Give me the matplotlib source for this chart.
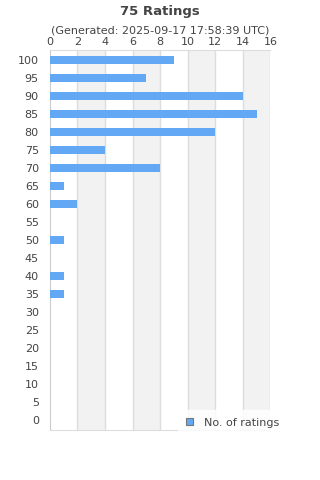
import numpy as np
import matplotlib.pyplot as plt
from matplotlib.patches import Patch

# ratings buckets (top to bottom as drawn) and counts
ratings = [100, 95, 90, 85, 80, 75, 70, 65, 60, 55, 50, 45, 40, 35, 30, 25, 20, 15, 10, 5, 0]
counts = [9, 7, 14, 15, 12, 4, 8, 1, 2, 0, 1, 0, 1, 1, 0, 0, 0, 0, 0, 0, 0]
xticks = [0, 2, 4, 6, 8, 10, 12, 14, 16]

title = '75 Ratings'
subtitle = '(Generated: 2025-09-17 17:58:39 UTC)'
series_name = 'No. of ratings'

bar_color = '#62a8f5'
text_color = '#444444'
grid_color = '#dddddd'
band_color = '#f2f2f2'

fig = plt.figure(figsize=(3.2, 4.8), dpi=100)
ax = fig.add_axes([0.156, 0.104, 0.689, 0.792])

y = np.arange(len(ratings))
ax.barh(y, counts, height=0.45, color=bar_color, zorder=3)

# alternating bands and grid lines
for i in range(1, len(xticks) - 1, 2):
    ax.axvspan(xticks[i], xticks[i + 1], color=band_color, zorder=0, lw=0)
for t in xticks[1:]:
    ax.axvline(t, color=grid_color, lw=1, zorder=1)

ax.set_xlim(0, 16)
ax.set_ylim(len(ratings) - 0.45, -0.55)
ax.set_xticks(xticks)
ax.set_yticks(y)
ax.set_yticklabels([str(r) for r in ratings])
ax.xaxis.tick_top()
ax.tick_params(axis='both', length=0, labelsize=8, colors=text_color, pad=2)
ax.tick_params(axis='y', pad=8)

for side in ['top', 'right', 'bottom']:
    ax.spines[side].set_color(grid_color)
ax.spines['right'].set_visible(False)
ax.spines['left'].set_color('#cccccc')

fig.text(0.5, 0.977, title, ha='center', va='center', fontsize=9.5,
         fontweight='bold', color=text_color)
fig.text(0.5, 0.937, subtitle, ha='center', va='center', fontsize=8,
         color=text_color)

handle = Patch(facecolor=bar_color, edgecolor='#777777', lw=0.8)
leg = fig.legend([handle], [series_name], loc='center left',
                 bbox_to_anchor=(0.556, 0.119), fontsize=8, frameon=True,
                 handlelength=0.6, handleheight=0.6, handletextpad=1.0,
                 borderpad=0.75, borderaxespad=0, fancybox=False)
leg.get_frame().set_facecolor('white')
leg.get_frame().set_edgecolor('white')
for txt in leg.get_texts():
    txt.set_color(text_color)

fig.savefig('out.png', dpi=100)
